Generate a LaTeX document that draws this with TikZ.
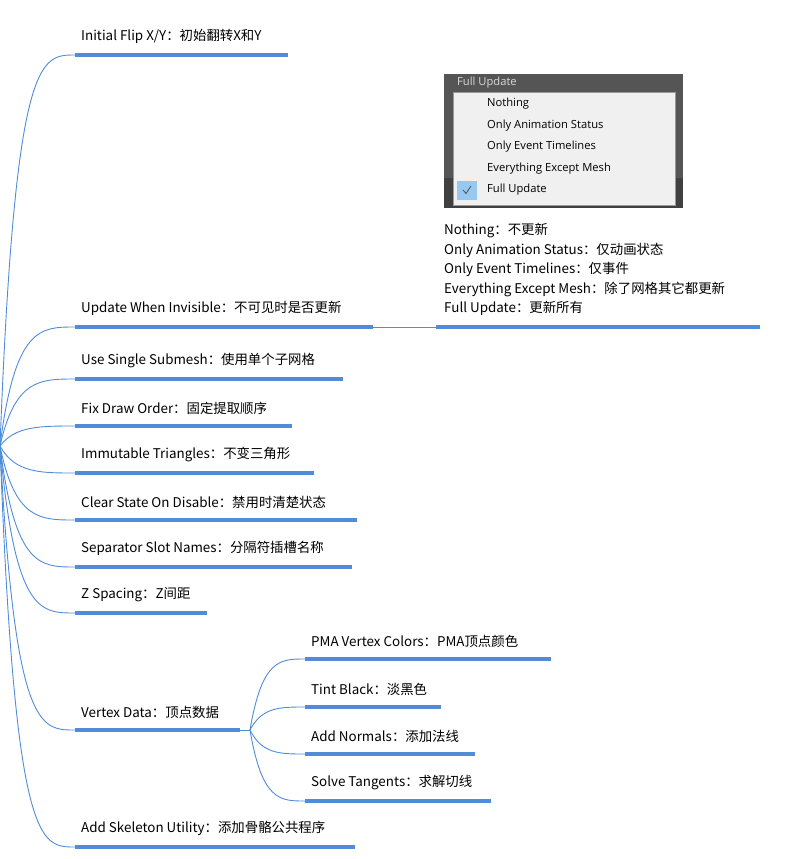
\documentclass[tikz,border=0pt]{standalone}
\usepackage{fontspec}
\setmainfont{Noto Sans CJK SC}
\newfontfamily\menufont{Open Sans}
\usetikzlibrary{positioning}
\definecolor{linkblue}{RGB}{80,140,215}
\definecolor{menubg}{RGB}{240,240,240}
\definecolor{titlebar}{RGB}{85,85,85}
\definecolor{checkblue}{RGB}{150,200,240}
\begin{document}
\begin{tikzpicture}[
    x = 1pt, y = -1pt,
    every node/.style = {inner sep = 0pt, font = \fontsize{13.4}{14}\selectfont},
    topic/.style = {anchor = south west},
    bar/.style = {line width = 3.4pt, linkblue},
    branch/.style = {linkblue, line width = 0.9pt},
    menuitem/.style = {anchor = west, font = \menufont\fontsize{11.2}{12}\selectfont}
  ]
  \useasboundingbox (0,0) rectangle (785,859);
  \coordinate (root) at (0,446);
  % main topics: name / underline y / underline end / text
  \foreach \n/\y/\e/\t in {
      flip/55/288/{Initial Flip X/Y：初始翻转X和Y},
      invis/327/373/{Update When Invisible：不可见时是否更新},
      submesh/379/343/{Use Single Submesh：使用单个子网格},
      order/426/292/{Fix Draw Order：固定提取顺序},
      tri/473/314/{Immutable Triangles：不变三角形},
      clear/520/357/{Clear State On Disable：禁用时清楚状态},
      slot/567/352/{Separator Slot Names：分隔符插槽名称},
      zspace/613/207/{Z Spacing：Z间距},
      vertex/730/240/{Vertex Data：顶点数据},
      skel/847/355/{Add Skeleton Utility：添加骨骼公共程序}} {
    \coordinate (\n-s) at (75,\y);
    \coordinate (\n-e) at (\e,\y);
    \node[topic] (\n) at (81,\y-11) {\t};
    \draw[bar] (\n-s) -- (\n-e);
    \draw[branch] (root) .. controls (15,\y) and (40,\y) .. (\n-s);
  }
  % vertex data children
  \coordinate (vfork) at (250,730);
  \draw[branch] (vertex-e) -- (vfork);
  \foreach \n/\y/\e/\t in {
      pma/659/551/{PMA Vertex Colors：PMA顶点颜色},
      tint/707/441/{Tint Black：淡黑色},
      normals/754/475/{Add Normals：添加法线},
      tangent/801/491/{Solve Tangents：求解切线}} {
    \coordinate (\n-s) at (305,\y);
    \coordinate (\n-e) at (\e,\y);
    \node[topic] (\n) at (311,\y-11) {\t};
    \draw[bar] (\n-s) -- (\n-e);
    \draw[branch] (vfork) .. controls (262,\y) and (280,\y) .. (\n-s);
  }
  % update mode note
  \coordinate (note-s) at (436,327);
  \coordinate (note-e) at (760,327);
  \draw[branch] (invis-e) -- (note-s);
  \draw[bar] (note-s) -- (note-e);
  \node[anchor = north west, align = left, font = \fontsize{13.4}{19.6}\selectfont]
    (modes) at (444,223) {Nothing：不更新\\
    Only Animation Status：仅动画状态\\
    Only Event Timelines：仅事件\\
    Everything Except Mesh：除了网格其它都更新\\
    Full Update：更新所有};
  % dropdown screenshot
  \fill[titlebar] (444,74) rectangle (683,208);
  \fill[black!75] (444,178) rectangle (683,208);
  \node[menuitem, text = white!85!black] (title) at (457,83) {Full Update};
  \draw[black!40, fill = menubg] (453,92) rectangle (675,205);
  \fill[checkblue] (457,181) rectangle (477,200);
  \draw[black!70, line width = 0.8pt] (463,190) -- (466,193.5) -- (471,186);
  \foreach \n/\y/\t in {nothing/104/Nothing, anim/126/Only Animation Status,
      event/147/Only Event Timelines, except/169/Everything Except Mesh,
      full/190/Full Update}
    \node[menuitem] (\n) at (487,\y) {\t};
\end{tikzpicture}
\end{document}
